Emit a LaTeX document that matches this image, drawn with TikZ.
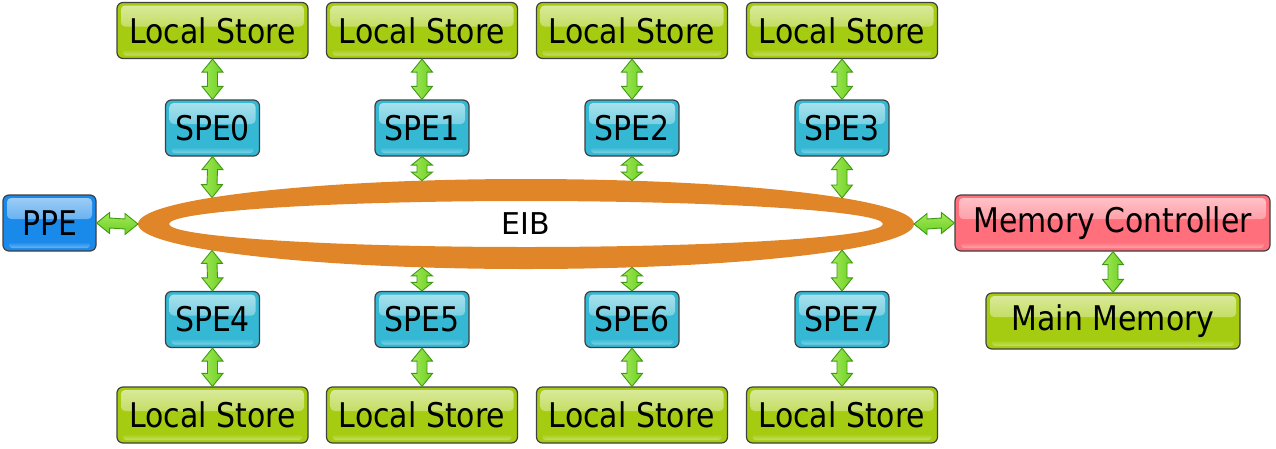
\documentclass[tikz,border=0pt]{standalone}
\usepackage{fontspec}
\setmainfont{DejaVu Sans}
\newfontfamily\boxfont[FakeStretch=0.88]{DejaVu Sans}
\usetikzlibrary{calc}
\definecolor{lsgreen}{HTML}{A6CC12}
\definecolor{specyan}{HTML}{34B8D4}
\definecolor{ppeblue}{HTML}{1A8AEA}
\definecolor{mcred}{HTML}{FF6F7C}
\definecolor{eiborange}{HTML}{E08628}
\definecolor{arrfill}{HTML}{6CCE22}
\definecolor{arrlight}{HTML}{A2EA58}
\definecolor{arredge}{HTML}{3E9A12}
\tikzset{
  gbox/.style={rounded corners=6pt, draw=black!75, line width=1.2pt, fill=#1,
    inner sep=0pt, font=\boxfont\fontsize{34}{34}\selectfont, text=black,
    path picture={
      \fill[rounded corners=4pt, top color=white!60!#1, bottom color=#1]
        ([xshift=4pt,yshift=-3pt]path picture bounding box.north west) rectangle
        ([xshift=-4pt,yshift=-24pt]path picture bounding box.north east);
      \fill[rounded corners=3pt, top color=#1, bottom color=white!35!#1]
        ([xshift=6pt,yshift=9pt]path picture bounding box.south west) rectangle
        ([xshift=-6pt,yshift=3pt]path picture bounding box.south east);
    }},
  lsbox/.style={gbox=lsgreen, minimum width=191pt, minimum height=56pt},
  spebox/.style={gbox=specyan, minimum width=94pt, minimum height=56pt},
  vdbl/.style={draw=arredge, line width=0.9pt, left color=arrlight, right color=arrfill,
    to path={
      (\tikztostart)
      -- ([shift={(10.5,#1)}]\tikztostart) -- ([shift={(5,#1)}]\tikztostart)
      -- ([shift={(5,-#1)}]\tikztotarget) -- ([shift={(10.5,-#1)}]\tikztotarget)
      -- (\tikztotarget)
      -- ([shift={(-10.5,-#1)}]\tikztotarget) -- ([shift={(-5,-#1)}]\tikztotarget)
      -- ([shift={(-5,#1)}]\tikztostart) -- ([shift={(-10.5,#1)}]\tikztostart)
      -- cycle}},
  vdbl/.default=13,
  hdbl/.style={draw=arredge, line width=0.9pt, top color=arrlight, bottom color=arrfill,
    to path={
      (\tikztostart)
      -- ([shift={(13,-10.5)}]\tikztostart) -- ([shift={(13,-5)}]\tikztostart)
      -- ([shift={(-13,-5)}]\tikztotarget) -- ([shift={(-13,-10.5)}]\tikztotarget)
      -- (\tikztotarget)
      -- ([shift={(-13,10.5)}]\tikztotarget) -- ([shift={(-13,5)}]\tikztotarget)
      -- ([shift={(13,5)}]\tikztostart) -- ([shift={(13,10.5)}]\tikztostart)
      -- cycle}}
}
\begin{document}
\begin{tikzpicture}[x=1pt,y=-1pt]
\useasboundingbox (0,0) rectangle (1276,448);
% EIB ring
\fill[eiborange, even odd rule] (526,224) ellipse [x radius=388, y radius=45]
  (526,224) ellipse [x radius=357, y radius=23];
\node[font=\fontsize{30}{30}\selectfont, inner sep=0pt] (eib) at (526,224) {EIB};
% points on the ring
\coordinate (r0t) at (212,197.6);
\coordinate (r1t) at (422,180.6);
\coordinate (r2t) at (632,180.6);
\coordinate (r3t) at (842,198.0);
\coordinate (r0b) at (212,250.4);
\coordinate (r1b) at (422,267.4);
\coordinate (r2b) at (632,267.4);
\coordinate (r3b) at (842,250.0);
\coordinate (rl) at (138,224);
\coordinate (rr) at (914,224);
% top row
\foreach \i/\x in {0/212.5,1/422,2/632,3/842}{
  \node[lsbox] (lst\i) at (\x,30.5) {Local Store};
  \node[spebox] (spe\i) at (\x,128) {SPE\i};
}
% bottom row
\foreach \i/\j/\x in {4/0/212.5,5/1/422,6/2/632,7/3/842}{
  \node[spebox] (spe\i) at (\x,319.5) {SPE\i};
  \node[lsbox] (lsb\j) at (\x,415) {Local Store};
}
\node[gbox=ppeblue, minimum width=93pt, minimum height=56pt] (ppe) at (49.5,223) {PPE};
\node[gbox=mcred, minimum width=315pt, minimum height=56pt] (mc) at (1112.5,223) {Memory Controller};
\node[gbox=lsgreen, minimum width=254pt, minimum height=56pt] (mm) at (1113,321) {Main Memory};
% arrows
\foreach \i in {0,1,2,3}{
  \draw[vdbl] (lst\i.south) to (spe\i.north);
}
\draw[vdbl] (spe0.south) to (r0t);
\draw[vdbl=8.5] (spe1.south) to (r1t);
\draw[vdbl=8.5] (spe2.south) to (r2t);
\draw[vdbl] (spe3.south) to (r3t);
\draw[vdbl] (r0b) to (spe4.north);
\draw[vdbl=8.5] (r1b) to (spe5.north);
\draw[vdbl=8.5] (r2b) to (spe6.north);
\draw[vdbl] (r3b) to (spe7.north);
\foreach \i/\j in {4/0,5/1,6/2,7/3}{
  \draw[vdbl] (spe\i.south) to (lsb\j.north);
}
\draw[hdbl] (ppe.east) to (rl);
\draw[hdbl] (rr) to (mc.west);
\draw[vdbl] ([xshift=0.5pt]mc.south) to (mm.north);
\end{tikzpicture}
\end{document}
